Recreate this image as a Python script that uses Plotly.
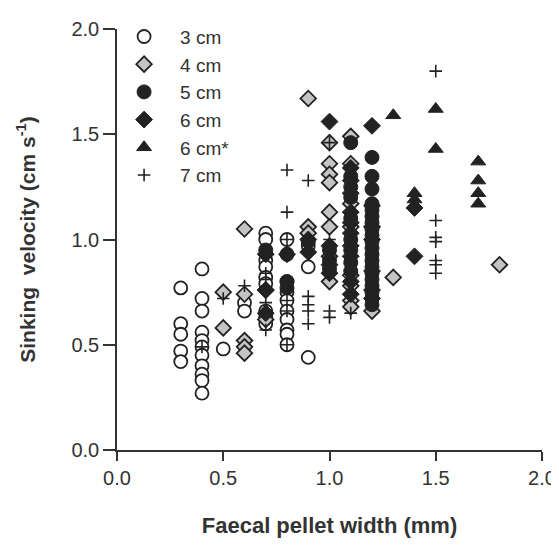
import plotly.graph_objects as go

# 3 cm (open circles)
x3 = [0.3]*5 + [0.4]*11 + [0.5] + [0.6]*2 + [0.7]*9 + [0.8]*10 + [0.9]*3
y3 = [0.77, 0.60, 0.55, 0.47, 0.42,
      0.86, 0.72, 0.66, 0.56, 0.52, 0.49, 0.45, 0.40, 0.36, 0.33, 0.27,
      0.48,
      0.70, 0.66,
      1.03, 1.00, 0.90, 0.87, 0.82, 0.79, 0.66, 0.63, 0.60,
      1.00, 0.93, 0.80, 0.75, 0.71, 0.66, 0.62, 0.57, 0.55, 0.50,
      0.97, 0.87, 0.44]

# 4 cm (grey diamonds)
x4 = [0.5]*2 + [0.6]*5 + [0.7]*2 + [0.9]*3 + [1.0]*8 + [1.1]*8 + [1.2]*2 + [1.3] + [1.8]
y4 = [0.75, 0.58,
      1.05, 0.74, 0.52, 0.49, 0.46,
      0.76, 0.62,
      1.67, 1.06, 1.03,
      1.46, 1.36, 1.31, 1.27, 1.13, 1.06, 0.92, 0.80,
      1.49, 1.36, 1.17, 1.06, 0.83, 0.78, 0.71, 0.68,
      1.06, 0.66,
      0.82,
      0.88]

# 5 cm (filled circles)
x5 = [0.7] + [0.8]*2 + [0.9] + [1.0]*3 + [1.1]*9 + [1.2]*20
y5 = [0.95,
      0.80, 0.77,
      0.99,
      0.95, 0.90, 0.86,
      1.46, 1.30, 1.25, 1.20, 1.10, 1.00, 0.95, 0.89, 0.85,
      1.39, 1.30, 1.24, 1.17, 1.14, 1.11, 1.08, 1.05, 1.02, 0.99,
      0.96, 0.93, 0.90, 0.87, 0.84, 0.81, 0.78, 0.75, 0.72, 0.69]

# 6 cm (filled diamonds)
x6 = [0.7]*3 + [0.8] + [0.9]*2 + [1.0]*4 + [1.1]*10 + [1.2]*6 + [1.4]*2
y6 = [0.93, 0.76, 0.65,
      0.93,
      1.00, 0.94,
      1.56, 0.97, 0.88, 0.84,
      1.34, 1.28, 1.22, 1.13, 1.08, 1.03, 0.97, 0.92, 0.80, 0.74,
      1.54, 1.16, 1.00, 0.85, 0.76, 0.72,
      1.15, 0.92]

# 6 cm* (filled triangles)
x6s = [1.3] + [1.4]*2 + [1.5]*2 + [1.7]*4
y6s = [1.59, 1.22, 1.19, 1.62, 1.43, 1.37, 1.28, 1.22, 1.17]

# 7 cm (plus signs)
x7 = [0.4] + [0.5] + [0.6] + [0.7]*4 + [0.8]*6 + [0.9]*5 + [1.0]*4 + [1.1] + [1.5]*7
y7 = [0.49,
      0.72,
      0.78,
      0.84, 0.81, 0.70, 0.57,
      1.33, 1.13, 1.00, 0.71, 0.66, 0.50,
      1.28, 0.73, 0.69, 0.66, 0.60,
      1.46, 1.00, 0.66, 0.63,
      0.65,
      1.80, 1.09, 1.01, 0.99, 0.90, 0.88, 0.84]

tick_vals = [0, 0.5, 1.0, 1.5, 2.0]
tick_text = ["0.0", "0.5", "1.0", "1.5", "2.0"]

INK = "#222222"
fig = go.Figure()
fig.add_trace(go.Scatter(x=x3, y=y3, mode="markers", name="3 cm", legendgroup="a",
                         marker=dict(symbol="circle", size=13, color="white",
                                     line=dict(color=INK, width=1.8))))
fig.add_trace(go.Scatter(x=x4, y=y4, mode="markers", name="4 cm", legendgroup="b",
                         marker=dict(symbol="diamond", size=12, color="#c4c4c4",
                                     line=dict(color=INK, width=1.8))))
fig.add_trace(go.Scatter(x=x5, y=y5, mode="markers", name="5 cm", legendgroup="c",
                         marker=dict(symbol="circle", size=14, color=INK,
                                     line=dict(color=INK, width=1))))
fig.add_trace(go.Scatter(x=x6, y=y6, mode="markers", name="6 cm", legendgroup="d",
                         marker=dict(symbol="diamond", size=13, color=INK,
                                     line=dict(color=INK, width=1))))
fig.add_trace(go.Scatter(x=x6s, y=y6s, mode="markers", name="6 cm*", legendgroup="e",
                         marker=dict(symbol="triangle-up", size=13, color=INK,
                                     line=dict(color=INK, width=1))))
fig.add_trace(go.Scatter(x=x7, y=y7, mode="markers", name="7 cm", legendgroup="f",
                         marker=dict(symbol="cross-thin", size=9, color=INK,
                                     line=dict(color=INK, width=1.6))))

FONT = "Liberation Sans, Arial, sans-serif"
TXT = "#333333"
axis_common = dict(showline=True, linecolor="#333333", linewidth=1.5,
                   ticks="outside", tickwidth=1.5, tickcolor="#333333",
                   showgrid=False, zeroline=False, range=[0, 2],
                   tickvals=tick_vals, ticktext=tick_text, automargin=False,
                   tickfont=dict(size=20, color=TXT, family=FONT))

# the page body adds an 8 px offset, so the figure is 8 px smaller each way
fig.update_layout(
    width=551, height=540,
    margin=dict(l=109, r=17, t=10, b=98),
    paper_bgcolor="white", plot_bgcolor="white",
    font=dict(family=FONT, color=TXT),
    xaxis=dict(**axis_common, ticklen=9,
               title=dict(text="<b>Faecal pellet width (mm)</b>",
                          font=dict(size=22, color=TXT, family=FONT),
                          standoff=30)),
    yaxis=dict(**axis_common, ticklen=12,
               title=dict(text="<b>Sinking  velocity (cm s<sup>-1</sup>)</b>",
                          font=dict(size=21, color=TXT, family=FONT),
                          standoff=30)),
    legend=dict(x=-0.021, y=1.027, xanchor="left", yanchor="top",
                bgcolor="rgba(0,0,0,0)", borderwidth=0,
                font=dict(size=19, color=TXT, family=FONT),
                itemwidth=62, tracegroupgap=0),
    showlegend=True,
)
fig.update_traces(cliponaxis=False)

fig.write_html("out.html")
